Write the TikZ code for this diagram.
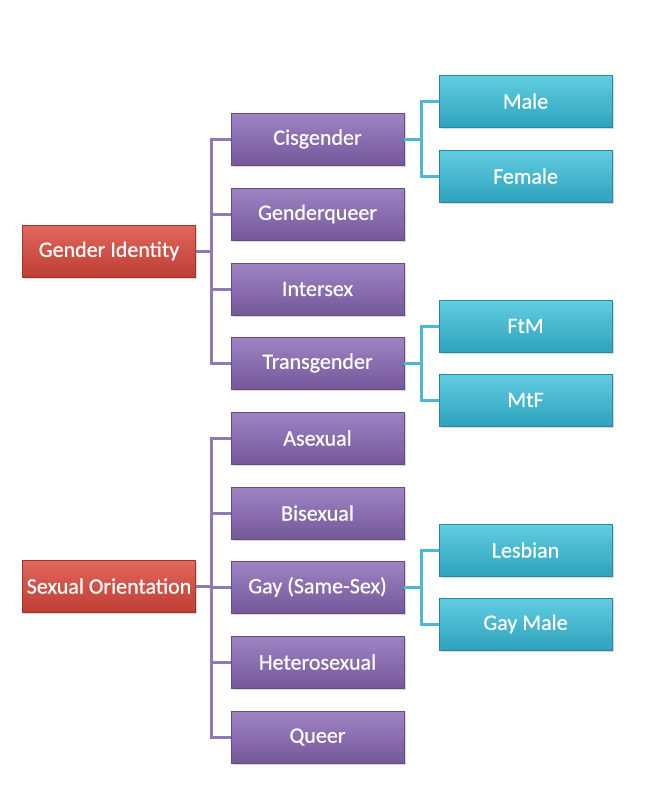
\documentclass[tikz,border=0pt]{standalone}
\usepackage{fontspec}
\setmainfont{Carlito}
\newfontfamily\boxfont{Carlito}[FakeBold=0.6]
\usetikzlibrary{shadows}

\definecolor{redtop}{HTML}{E2675C}
\definecolor{redbot}{HTML}{BD3E34}
\definecolor{purtop}{HTML}{9F84C4}
\definecolor{purbot}{HTML}{74589A}
\definecolor{cyatop}{HTML}{62CDE2}
\definecolor{cyabot}{HTML}{2EA3BC}
\definecolor{purline}{HTML}{9078B2}
\definecolor{cyaline}{HTML}{4DB9CE}

\tikzset{
  box/.style={rectangle, minimum width=173pt, minimum height=52pt, inner sep=2pt,
    text=white, font=\boxfont\fontsize{22}{24}\selectfont,
    drop shadow={opacity=0.3, shadow xshift=1.5pt, shadow yshift=-2pt}},
  rootbox/.style={box, top color=redtop, bottom color=redbot, draw=redbot!85!black, line width=0.6pt},
  midbox/.style={box, top color=purtop, bottom color=purbot, draw=purbot!85!black, line width=0.6pt},
  leafbox/.style={box, top color=cyatop, bottom color=cyabot, draw=cyabot!85!black, line width=0.6pt},
  plink/.style={draw=purline, line width=3pt},
  clink/.style={draw=cyaline, line width=3pt}
}

\begin{document}
\begin{tikzpicture}[x=1pt,y=-1pt]
  \useasboundingbox (0,0) rectangle (646,790);

  \node[rootbox] (gi) at (109,251) {Gender Identity};
  \node[rootbox] (so) at (109,586) {Sexual Orientation};

  \node[midbox] (cis) at (317.5,139) {Cisgender};
  \node[midbox] (gq) at (317.5,214) {Genderqueer};
  \node[midbox] (inter) at (317.5,289) {Intersex};
  \node[midbox] (trans) at (317.5,363) {Transgender};
  \node[midbox] (asex) at (317.5,438) {Asexual};
  \node[midbox] (bisex) at (317.5,513) {Bisexual};
  \node[midbox] (gay) at (317.5,587) {Gay (Same-Sex)};
  \node[midbox] (hetero) at (317.5,662) {Heterosexual};
  \node[midbox] (queer) at (317.5,737) {Queer};

  \node[leafbox] (male) at (525.5,101) {Male};
  \node[leafbox] (female) at (525.5,176) {Female};
  \node[leafbox] (ftm) at (525.5,326) {FtM};
  \node[leafbox] (mtf) at (525.5,400) {MtF};
  \node[leafbox] (lesb) at (525.5,550) {Lesbian};
  \node[leafbox] (gmale) at (525.5,624) {Gay Male};

  \foreach \c in {cis,gq,inter,trans}
    \draw[plink] (gi.east) -- ++(16,0) |- (\c.west);
  \foreach \c in {asex,bisex,gay,hetero,queer}
    \draw[plink] (so.east) -- ++(16,0) |- (\c.west);
  \foreach \c in {male,female}
    \draw[clink] (cis.east) -- ++(17,0) |- (\c.west);
  \foreach \c in {ftm,mtf}
    \draw[clink] (trans.east) -- ++(17,0) |- (\c.west);
  \foreach \c in {lesb,gmale}
    \draw[clink] (gay.east) -- ++(17,0) |- (\c.west);
\end{tikzpicture}
\end{document}
